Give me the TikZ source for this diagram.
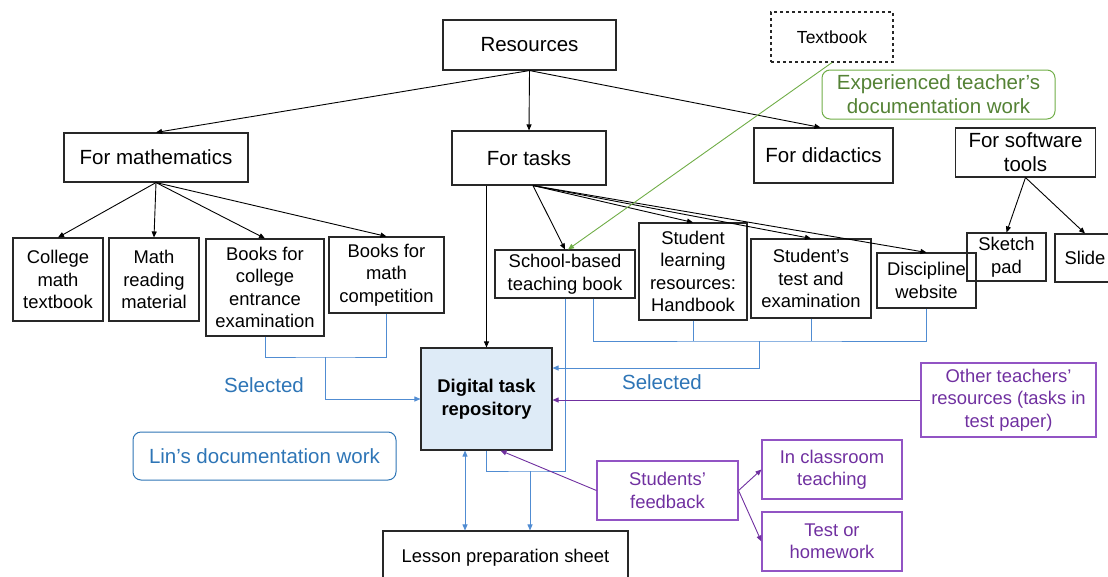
\documentclass[tikz,border=0pt]{standalone}
\usepackage{fontspec}
\setmainfont{Liberation Sans}
\usetikzlibrary{arrows.meta}
\definecolor{lnblue}{RGB}{80,140,210}
\definecolor{txblue}{RGB}{46,117,182}
\definecolor{repofill}{RGB}{222,235,247}
\definecolor{purp}{RGB}{112,48,160}
\definecolor{purpbd}{RGB}{146,84,196}
\definecolor{grtx}{RGB}{84,130,53}
\definecolor{grln}{RGB}{112,173,71}
\definecolor{bd}{RGB}{40,40,40}
\newcommand\fbig{\fontsize{20.5}{24}\selectfont}
\newcommand\fmed{\fontsize{18.4}{22.5}\selectfont}
\begin{document}
\begin{tikzpicture}[x=1pt,y=-1pt,
  box/.style={draw=bd, line width=1.1pt, inner sep=0pt, align=center, font=\fmed},
  bigbox/.style={box, font=\fbig},
  pbox/.style={draw=purpbd, line width=1.1pt, inner sep=0pt, align=center, font=\fmed, text=purp},
  arr/.style={-{Triangle[length=6pt,width=5pt]}, line width=0.9pt},
  blk/.style={arr, draw=black},
  bl/.style={line width=1pt, draw=lnblue},
  bla/.style={arr, draw=lnblue},
  pa/.style={arr, draw=purp}]
\useasboundingbox (0,0) rectangle (1108,576);
\clip (0,0) rectangle (1108,576);
% top level
\node[bigbox, minimum width=173pt, minimum height=50pt] (res) at (529.5,45) {Resources};
\node[bigbox, minimum width=184pt, minimum height=49pt] (math) at (156,157.5) {For mathematics};
\node[bigbox, minimum width=154pt, minimum height=54pt] (tasks) at (529,158) {For tasks};
\node[bigbox, minimum width=139pt, minimum height=55pt] (did) at (823.5,155.5) {For didactics};
\node[bigbox, minimum width=140pt, minimum height=49pt] (soft) at (1025.5,152.5) {For software\\tools};
\node[box, dashed, font=\fontsize{17.5}{21}\selectfont, minimum width=122pt, minimum height=50pt] (tb) at (832,37) {Textbook};
\node[draw=grln, line width=1pt, rounded corners=8pt, inner sep=0pt, align=center, font=\fbig, text=grtx, minimum width=233pt, minimum height=49pt] (exp) at (938.5,94.5) {Experienced teacher’s\\documentation work};
% math children
\node[box, minimum width=90pt, minimum height=83pt] (cmt) at (58,279.5) {College\\math\\textbook};
\node[box, minimum width=90pt, minimum height=83pt] (mrm) at (154,279.5) {Math\\reading\\material};
\node[box, minimum width=118pt, minimum height=97pt] (bce) at (265,287.5) {Books for\\college\\entrance\\examination};
\node[box, minimum width=115pt, minimum height=76pt] (bmc) at (386.5,275) {Books for\\math\\competition};
% task children
\node[box, minimum width=140pt, minimum height=48pt] (sbt) at (565,274) {School-based\\teaching book};
\node[box, minimum width=108pt, minimum height=97pt] (slr) at (693,271.5) {Student\\learning\\resources:\\Handbook};
\node[box, minimum width=120pt, minimum height=79pt] (stt) at (811,278.5) {Student’s\\test and\\examination};
\node[box, minimum width=99pt, minimum height=55pt] (dw) at (926.5,280.5) {Discipline\\website};
% software children
\node[box, minimum width=79pt, minimum height=48pt] (sp) at (1006.5,257) {Sketch\\pad};
\node[box, minimum width=60pt, minimum height=48pt] (sl) at (1085,258) {Slide};
% repository and others
\node[box, fill=repofill, font=\fmed\bfseries, minimum width=131pt, minimum height=102pt] (repo) at (486.5,399) {Digital task\\repository};
\node[draw=txblue, line width=1pt, rounded corners=8pt, inner sep=0pt, font=\fbig, text=txblue, minimum width=263pt, minimum height=48pt] (lin) at (264.5,456) {Lin’s documentation work};
\node[box, minimum width=245pt, minimum height=54pt] (les) at (505.5,558) {Lesson preparation sheet};
\node[pbox, minimum width=141pt, minimum height=59pt] (fb) at (667.5,490.5) {Students’\\feedback};
\node[pbox, minimum width=140pt, minimum height=59pt] (cls) at (832,469.5) {In classroom\\teaching};
\node[pbox, minimum width=140pt, minimum height=59pt] (toh) at (832,541.5) {Test or\\homework};
\node[pbox, minimum width=175pt, minimum height=74pt] (oth) at (1008.5,400) {Other teachers’\\resources (tasks in\\test paper)};
\node[font=\fbig, text=txblue] (sel1) at (264,385) {Selected};
\node[font=\fbig, text=txblue] (sel2) at (662,382) {Selected};
% black arrows
\draw[blk] (res.south) -- (math.north);
\draw[blk] (res.south) -- (tasks.north);
\draw[blk] (res.south) -- ([xshift=-3pt]did.north);
\foreach \t in {cmt,mrm,bce,bmc} \draw[blk] (math.south) -- (\t.north);
\foreach \t in {sbt,slr,stt,dw} \draw[blk] ([xshift=4pt]tasks.south) -- (\t.north);
\draw[blk] (repo.north |- tasks.south) -- (repo.north);
\draw[blk] (soft.south) -- (sp.north);
\draw[blk] (soft.south) -- (sl.north);
% green
\draw[arr, draw=grln] (tb.south) -- ([xshift=3pt]sbt.north);
% blue left
\coordinate (jl) at (325,357);
\draw[bl] (bce.south) |- (jl) -| (bmc.south);
\draw[bla] (jl) |- (repo.west);
% blue right
\coordinate (jr) at (759,341);
\draw[bl] ([xshift=28pt]sbt.south) |- (jr) -| (dw.south);
\draw[bl] (slr.south) -- (slr.south |- jr);
\draw[bl] (stt.south) -- (stt.south |- jr);
\draw[bla] (jr) |- ([yshift=31pt]repo.east);
% blue bottom
\coordinate (u) at (530,471);
\draw[bl] (sbt.south) |- (u) -| (repo.south);
\draw[bla] (u) -- (u |- les.north);
\draw[bla, {Triangle[length=6pt,width=5pt]}-{Triangle[length=6pt,width=5pt]}] ([xshift=-21.5pt]repo.south) -- ([xshift=-21.5pt]repo.south |- les.north);
% purple
\draw[pa] (oth.west) -- (oth.west -| repo.east);
\draw[pa] (fb.west) -- ([xshift=14pt]repo.south);
\draw[pa] (fb.east) -- (cls.west);
\draw[pa] (fb.east) -- (toh.west);
\end{tikzpicture}
\end{document}
